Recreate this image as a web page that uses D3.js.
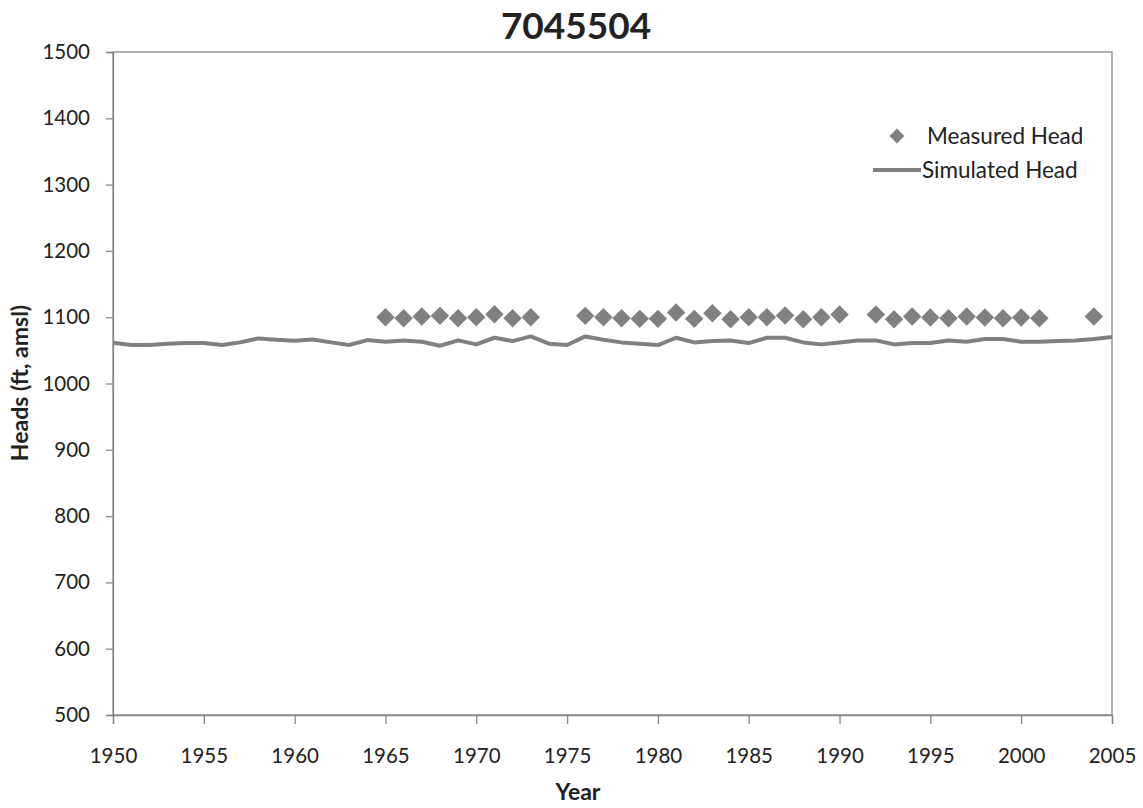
<!DOCTYPE html>
<html>
<head>
<meta charset="utf-8">
<script src="https://cdn.jsdelivr.net/npm/d3@7"></script>
<style>
  body { margin: 0; background: #fff; }
  svg text { font-family: Lato, "Open Sans", sans-serif; fill: #222; }
</style>
</head>
<body>
<div id="chart"></div>
<script>
// simulated head, one value per year 1950..2005
const simYears = d3.range(1950, 2006);
const simHeads = [
  1061.5, 1058, 1058, 1060, 1061, 1061, 1058, 1062, 1068, 1066,
  1064.5, 1066.5, 1062, 1058, 1065.5, 1063, 1065, 1063, 1057, 1065,
  1059, 1069, 1064, 1071, 1060, 1058, 1071, 1066, 1062, 1060,
  1058, 1069, 1062, 1064, 1065, 1061, 1069, 1069, 1062, 1059,
  1062, 1065, 1065, 1059, 1061, 1061, 1065, 1063, 1067, 1067,
  1063, 1063, 1064, 1065, 1067, 1070
];

// measured heads
const measYears = [1965, 1966, 1967, 1968, 1969, 1970, 1971, 1972, 1973,
  1976, 1977, 1978, 1979, 1980, 1981, 1982, 1983, 1984, 1985, 1986, 1987, 1988, 1989, 1990,
  1992, 1993, 1994, 1995, 1996, 1997, 1998, 1999, 2000, 2001, 2004];
const measHeads = [1100, 1098.5, 1101, 1102, 1098.5, 1100, 1104.5, 1098.5, 1100,
  1102, 1100, 1098.5, 1097.5, 1097.5, 1107, 1097.5, 1106, 1097, 1100, 1100, 1102.5, 1097, 1100, 1104,
  1104, 1097, 1101, 1099.5, 1098.5, 1101, 1099.5, 1098.5, 1099.5, 1098.5, 1101];

const xTicks = d3.range(1950, 2006, 5);
const yTicks = d3.range(500, 1501, 100);

const W = 1143, H = 808;
const margin = {top: 52, right: 31, bottom: 93, left: 113};
const grey = "#808080", axisGrey = "#878787";

const svg = d3.select("#chart").append("svg")
  .attr("width", W).attr("height", H);

const x = d3.scaleLinear().domain([1950, 2005]).range([margin.left, W - margin.right]);
const y = d3.scaleLinear().domain([500, 1500]).range([H - margin.bottom, margin.top]);

// plot border
svg.append("rect")
  .attr("x", x(1950)).attr("y", y(1500))
  .attr("width", x(2005) - x(1950)).attr("height", y(500) - y(1500))
  .attr("fill", "none").attr("stroke", axisGrey).attr("stroke-width", 1.3);

const xAxis = svg.append("g")
  .attr("transform", `translate(0,${y(500)})`)
  .call(d3.axisBottom(x).tickValues(xTicks).tickFormat(d3.format("d")).tickSize(9).tickPadding(24));
const yAxis = svg.append("g")
  .attr("transform", `translate(${x(1950)},0)`)
  .call(d3.axisLeft(y).tickValues(yTicks).tickFormat(d3.format("d")).tickSize(7).tickPadding(16));

[xAxis, yAxis].forEach(g => {
  g.select(".domain").attr("stroke", axisGrey).attr("stroke-width", 1.3);
  g.selectAll(".tick line").attr("stroke", axisGrey).attr("stroke-width", 1.3);
  g.selectAll(".tick text").style("font-size", "20.5px").attr("fill", "#222");
});

// simulated line
svg.append("path")
  .datum(simYears.map((yr, i) => [yr, simHeads[i]]))
  .attr("fill", "none")
  .attr("stroke", grey)
  .attr("stroke-width", 4)
  .attr("stroke-linejoin", "round")
  .attr("d", d3.line().x(d => x(d[0])).y(d => y(d[1])));

// measured diamonds
const diamond = d3.symbol().type(d3.symbolSquare).size(170);
svg.selectAll(".meas")
  .data(measYears.map((yr, i) => [yr, measHeads[i]]))
  .enter().append("path")
  .attr("class", "meas")
  .attr("d", diamond)
  .attr("fill", grey)
  .attr("transform", d => `translate(${x(d[0])},${y(d[1])}) rotate(45)`);

// title
svg.append("text")
  .attr("x", 576).attr("y", 39)
  .attr("text-anchor", "middle")
  .style("font-size", "37px").style("font-weight", "bold")
  .attr("fill", "#000")
  .text("7045504");

// axis titles
svg.append("text")
  .attr("x", 578).attr("y", 800)
  .attr("text-anchor", "middle")
  .style("font-size", "23px").style("font-weight", "bold")
  .text("Year");

svg.append("text")
  .attr("transform", "translate(28,383) rotate(-90)")
  .attr("text-anchor", "middle")
  .style("font-size", "23px").style("font-weight", "bold")
  .text("Heads (ft, amsl)");

// legend
const legend = svg.append("g").attr("class", "legend");
legend.append("path")
  .attr("d", d3.symbol().type(d3.symbolSquare).size(110))
  .attr("fill", grey)
  .attr("transform", "translate(897,136) rotate(45)");
legend.append("text")
  .attr("x", 927).attr("y", 144)
  .style("font-size", "22.5px")
  .text("Measured Head");
legend.append("line")
  .attr("x1", 873).attr("x2", 921)
  .attr("y1", 170).attr("y2", 170)
  .attr("stroke", grey).attr("stroke-width", 4);
legend.append("text")
  .attr("x", 922).attr("y", 178)
  .style("font-size", "22.5px")
  .text("Simulated Head");
</script>
</body>
</html>
